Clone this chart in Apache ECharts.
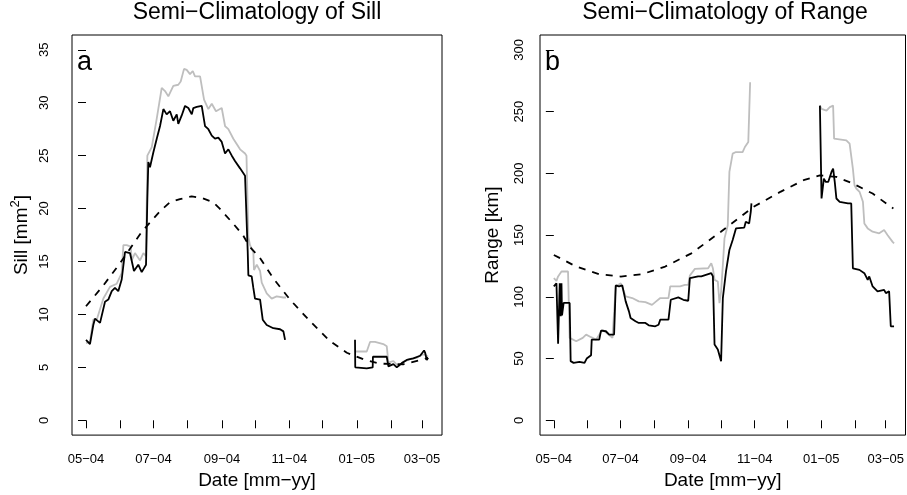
<!DOCTYPE html>
<html>
<head>
<meta charset="utf-8">
<script src="https://cdn.jsdelivr.net/npm/echarts@6/dist/echarts.min.js"></script>
<style>html,body{margin:0;padding:0;background:#fff}#c{width:907px;height:495px}</style>
</head>
<body>
<div id="c"></div>
<script>
// x values are days counted from 2004-05-01
const monthStartDays = [0, 31, 61, 92, 123, 153, 184, 214, 245, 276, 304];
const tickLabelDays = [0, 61, 123, 184, 245, 304];
const tickLabels = ['05−04', '07−04', '09−04', '11−04', '01−05', '03−05'];
const sillTicks = [0, 5, 10, 15, 20, 25, 30, 35];
const rangeTicks = [0, 50, 100, 150, 200, 250, 300];

// Panel a: Sill
const sillGray1 = [[0,7.3],[3.6,7.4],[6.6,9.5],[10,9.6],[15.7,11.5],[21.7,12.6],[27.8,12.9],[32.3,13.9],[33.8,16.55],[36.8,16.55],[40.5,16.4],[41.4,15.1],[44.3,15.8],[48.9,15.1],[51.9,15.8],[54.3,15.5],[55.5,25.0],[59.5,25.8],[64,28.5],[68.5,31.4],[71.5,31.1],[74.5,30.6],[79,31.6],[83.5,31.7],[85.7,32.0],[88.7,33.2],[91.1,33.1],[94.1,32.7],[96.6,33.0],[98.6,32.5],[103.2,32.5],[106.8,30.3],[110.7,29.4],[113.8,29.9],[117.6,29.2],[122.8,29.5],[125.8,27.8],[128.8,27.5],[133.3,26.6],[139.4,25.6],[143.9,25.2],[145.2,25.0],[146.9,17.3],[148.4,16.55],[151.4,15.9],[152,14.2],[154.5,14.7],[157.5,14.1],[159,13.0],[163.5,12.0],[168,11.5],[172.5,11.7],[178.6,11.6],[181,11.6]];
const sillGray2 = [[243.4,6.5],[254,6.5],[257,7.4],[261.5,7.4],[269,7.2],[272.1,7.0],[273.6,5.45],[278.1,5.6],[282.6,5.1],[286.9,5.5],[293.2,5.8],[299.3,5.9],[304.1,6.2],[306.8,6.2],[309.5,6.0]];
const sillBlack1 = [[0,7.6],[1.8,7.5],[3.6,7.2],[6.6,9.0],[8.1,9.6],[12.7,9.2],[14.2,9.1],[17.2,11.2],[20.2,11.4],[23.3,12.2],[26.2,12.5],[29.2,12.2],[32.3,13.3],[33.8,13.4],[35.3,15.9],[36.8,16.0],[39.8,15.8],[41.4,15.8],[43.4,14.1],[47.3,14.7],[50.4,14.0],[54.3,14.7],[55.5,20.9],[56.4,24.4],[57.9,23.9],[60.9,25.3],[64,26.6],[67,27.8],[70,29.4],[73,28.9],[76,29.2],[79,28.3],[82.1,28.9],[83.5,28.0],[86.6,28.8],[89.6,29.7],[92.6,29.5],[95.7,28.9],[97.1,29.5],[100.2,29.6],[104.7,29.7],[107.7,27.8],[110.7,27.5],[113.8,26.9],[116.7,26.6],[119.7,26.7],[122.8,26.3],[125.8,25.2],[128.8,25.6],[131.9,25.0],[134.8,24.5],[139.4,23.8],[143.9,23.1],[145.2,23.0],[146.3,16.0],[146.9,13.7],[149.9,13.6],[151.4,12.5],[152.9,11.5],[157.5,11.4],[159.9,9.5],[163.5,9.0],[169.5,8.7],[175.6,8.6],[178.6,8.4],[180.1,7.6]];
const sillBlack2 = [[243.4,7.6],[243.6,5.0],[254,4.9],[259.4,5.0],[259.6,6.0],[272.1,6.0],[273.6,5.1],[278.1,5.3],[281.2,5.0],[285.7,5.4],[290.2,5.7],[296.2,5.85],[302.3,6.1],[305.9,6.6],[306.8,6.4],[308.3,5.7],[309.5,5.9]];
const sillClim = [[0,10.77],[15.7,12.74],[30.8,14.84],[50.4,17.8],[67,19.75],[76,20.6],[85,20.9],[95.6,21.15],[105,21.0],[115,20.6],[121,20.0],[133,18.6],[142,17.5],[148,16.4],[157,15.4],[169.5,13.4],[184.6,11.4],[202.7,9.36],[220.8,7.48],[236,6.38],[251,5.76],[266,5.35],[287,5.29],[305,5.76],[309.5,5.9]];

// Panel b: Range
const rangeGray1 = [[0,115.1],[2.4,112.9],[3.9,116.5],[7.0,120.5],[13,120.5],[14.5,66.7],[20.5,64],[26.5,66.7],[29.6,69.4],[34.1,67.3],[38.6,65.3],[44.6,73.4],[53.7,66.7],[56.7,108.4],[61.3,111],[65.8,100.3],[71.8,99],[77.8,96.3],[83.9,95.7],[89.9,93.5],[92.9,95.7],[97.5,99],[105,99],[106.6,108.4],[115.6,108.4],[120.1,109.7],[123.1,109.7],[124.6,117.3],[129.2,122.6],[141.3,123.1],[144.2,127.2],[145.7,123.1],[147.2,113.7],[150.2,112.4],[151.7,94.9],[153.2,104.4],[154.8,125.8],[156.3,147.3],[159.3,158],[160.8,201.1],[163.8,215.9],[166.8,217.2],[172.9,217.2],[175,221.3],[176.8,221.3],[178.1,225.3],[179.8,273.7]];
const rangeGray2 = [[243.7,254.8],[245.2,252.2],[249.7,250.8],[252.8,253.6],[255.8,254.8],[256.7,228],[267.9,226.6],[270.9,224],[272.4,224],[273.9,203.8],[275.4,190.3],[277,187.7],[280,185],[283.1,177],[284.4,159.4],[287.5,155.4],[292,152.7],[298,151.4],[302.5,154],[305.6,150],[310.1,144.7],[311.6,143.3]];
const rangeBlack1 = [[0,108.4],[1.8,107.6],[2.4,111],[3.9,61.9],[5.4,111],[6.3,84.2],[7.0,111],[7.5,85],[9.0,95],[14.5,95],[15.4,47.9],[18.1,46.5],[23.5,47.3],[28.1,46.5],[30.1,50],[34.1,52.7],[34.7,65.3],[41.6,65.3],[43.2,72.6],[47.7,72.1],[50.7,69.4],[55.2,69.4],[56.7,109.2],[59.7,108.4],[62.7,109.2],[64.3,108.4],[65.8,96.3],[68.8,88.2],[70.3,82.8],[74.8,80.2],[77.8,78.8],[83.9,78.8],[86.9,76.9],[92.9,76.1],[95.9,77.4],[97.5,81.5],[105,81.5],[107.1,97.6],[114,99.5],[118.6,97.6],[123.1,96.8],[124.6,115.1],[132.1,116.5],[135.1,116.5],[144.2,119.1],[145.7,116.5],[147.2,61.3],[150.2,57.3],[153.2,47.9],[154.8,99],[157.7,120.5],[160.8,137.9],[163.8,146],[166.8,155.4],[174.4,156],[175.8,160.8],[178.9,159.4],[180.4,168.9],[181,175.6]];
const rangeBlack2 = [[243.7,254.8],[245.2,179.6],[247.3,195.7],[249.1,193],[251.3,193],[254.3,201.1],[255.8,203.8],[257.3,193],[258.8,179.6],[261.8,176.9],[269.4,175.6],[272.4,175.6],[273.9,123.1],[279.9,121.8],[284.4,119.1],[287.5,113.7],[288.9,116.5],[292,108.4],[296.5,104.4],[302.5,105.6],[304.1,103],[307.1,104.4],[308.6,76.1],[311.6,76.1]];
const rangeClim = [[0,133.9],[20.5,124.5],[41.6,118.3],[61.3,116.4],[80.8,118.3],[102,124.5],[126,135.2],[153,152.7],[183,172.9],[207.5,185],[228.7,194.4],[243.7,198.4],[258.8,197.1],[274,191.7],[292,183.6],[308.6,172.9],[311,171.5]];

const FONT = '"Liberation Sans", Arial, Helvetica, sans-serif';
const GRAY = '#bebebe';

function xAxisFor(i) {
  return {
    type: 'value', gridIndex: i, min: -12.67, max: 322.1,
    axisLine: {show: false},
    splitLine: {show: false},
    axisTick: {show: true, customValues: monthStartDays, length: 8, lineStyle: {color: '#000', width: 1}},
    axisLabel: {
      customValues: tickLabelDays, margin: 18, fontSize: 13, color: '#000', fontFamily: FONT,
      formatter: v => { const k = tickLabelDays.findIndex(d => Math.abs(d - v) < 0.5); return k >= 0 ? tickLabels[k] : ''; }
    },
    name: 'Date [mm−yy]', nameLocation: 'middle', nameGap: 34,
    nameTextStyle: {fontSize: 19, color: '#000', fontFamily: FONT}
  };
}
function yAxisFor(i, min, max, ticks, margin, name, rich) {
  return {
    type: 'value', gridIndex: i, min: min, max: max,
    axisLine: {show: false},
    splitLine: {show: false},
    axisTick: {show: true, customValues: ticks, length: 8, lineStyle: {color: '#000', width: 1}},
    axisLabel: {customValues: ticks, rotate: 90, margin: margin, fontSize: 13, color: '#000', fontFamily: FONT},
    name: name, nameLocation: 'middle', nameGap: 38,
    nameTextStyle: Object.assign({fontSize: 19, color: '#000', fontFamily: FONT}, rich ? {rich: rich} : {})
  };
}
function line(data, xi, color, dashed) {
  return {
    type: 'line', xAxisIndex: xi, yAxisIndex: xi, data: data, showSymbol: false, symbol: 'none',
    lineStyle: {color: color, width: dashed ? 1.8 : 1.8, type: dashed ? [7, 7] : 'solid'},
    silent: true, z: dashed ? 4 : (color === GRAY ? 2 : 3)
  };
}

const chart = echarts.init(document.getElementById('c'), null, {renderer: 'canvas'});
chart.setOption({
  animation: false,
  backgroundColor: '#fff',
  grid: [
    {left: 72, top: 35, width: 370, height: 402, show: true, borderColor: '#000', borderWidth: 1, backgroundColor: 'transparent'},
    {left: 540, top: 35, width: 370, height: 402, show: true, borderColor: '#000', borderWidth: 1, backgroundColor: 'transparent'}
  ],
  xAxis: [xAxisFor(0), xAxisFor(1)],
  yAxis: [
    yAxisFor(0, -1.4, 36.4, sillTicks, 21, '{n|Sill [mm}{s|2}{n|]}', {n: {fontSize: 19, fontFamily: FONT, color: '#000'}, s: {fontSize: 13, fontFamily: FONT, color: '#000', padding: [0, 0, 12, 0]}}),
    yAxisFor(1, -12, 312, rangeTicks, 14, 'Range [km]', null)
  ],
  graphic: [
    {type: 'text', x: 257, y: 12.5, style: {text: 'Semi−Climatology of Sill', font: '23px ' + FONT, fill: '#000', align: 'center', verticalAlign: 'middle'}},
    {type: 'text', x: 725, y: 12.5, style: {text: 'Semi−Climatology of Range', font: '23px ' + FONT, fill: '#000', align: 'center', verticalAlign: 'middle'}},
    {type: 'text', x: 77, y: 62.6, style: {text: 'a', font: '27px ' + FONT, fill: '#000', align: 'left', verticalAlign: 'middle'}},
    {type: 'text', x: 545, y: 62.6, style: {text: 'b', font: '27px ' + FONT, fill: '#000', align: 'left', verticalAlign: 'middle'}}
  ],
  series: [
    line(sillGray1, 0, GRAY), line(sillGray2, 0, GRAY),
    line(sillBlack1, 0, '#000'), line(sillBlack2, 0, '#000'),
    line(sillClim, 0, '#000', true),
    line(rangeGray1, 1, GRAY), line(rangeGray2, 1, GRAY),
    line(rangeBlack1, 1, '#000'), line(rangeBlack2, 1, '#000'),
    line(rangeClim, 1, '#000', true)
  ]
});
</script>
</body>
</html>
